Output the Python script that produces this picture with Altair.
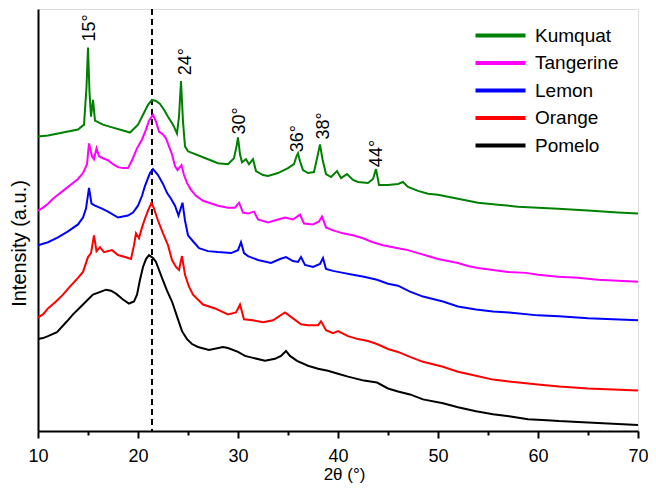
import altair as alt
import pandas as pd

FONT = "Liberation Sans"

series_names = ["Kumquat", "Tangerine", "Lemon", "Orange", "Pomelo"]
series_colors = ["#008000", "#ff00ff", "#0000ff", "#ff0000", "#000000"]

# 2-theta positions (deg) and intensities (a.u.)
kumquat_x = [10.0, 11, 12, 13, 14, 14.6, 14.85, 15.0, 15.15, 15.3, 15.5, 15.7, 16.5, 17.5, 18.5, 19.2, 20, 20.5, 21, 21.4, 21.8, 22.2, 22.6, 23, 23.5, 23.9, 24.1, 24.3, 24.5, 24.7, 25, 26, 27, 28, 29, 29.6, 29.85, 30.0, 30.2, 30.4, 30.8, 31.1, 31.5, 31.8, 32.5, 33, 34, 35, 35.6, 35.85, 36.0, 36.2, 36.5, 37, 37.6, 37.95, 38.2, 38.45, 38.8, 39.3, 39.9, 40.3, 40.9, 41.5, 42, 43, 43.5, 43.8, 44.1, 45, 46, 46.5, 47, 48, 49, 50, 51, 52, 54, 56, 58, 60, 62, 65, 68, 70]
kumquat_y = [298, 299, 301, 303, 305, 310, 348, 388, 343, 318, 335, 314, 310, 307, 304, 302, 310, 320, 330, 335, 334, 331, 325, 318, 310, 301, 318, 354, 313, 288, 283, 279, 275, 271, 270, 276, 288, 297, 280, 272, 275, 270, 275, 263, 259, 258, 261, 266, 270, 278, 281, 273, 264, 261, 262, 278, 290, 275, 260, 257, 263, 256, 260, 254, 252, 251, 255, 265, 249, 249, 250, 252, 247, 243, 240, 239, 237, 235, 231, 229, 227, 226, 225, 223, 221, 220]

tangerine_x = [10, 10.5, 11, 11.5, 12, 12.5, 13, 13.5, 14, 14.5, 14.9, 15.1, 15.4, 15.6, 15.85, 16.1, 16.5, 17, 17.5, 18, 18.5, 19, 19.4, 19.9, 20.4, 20.8, 21.1, 21.5, 21.8, 22.1, 22.5, 22.8, 23.1, 23.4, 23.7, 23.95, 24.35, 24.6, 24.9, 25.3, 25.8, 26.5, 27.4, 28, 29, 29.7, 30.1, 30.5, 31, 31.6, 32, 33, 34, 34.7, 35.5, 36.2, 36.6, 37.5, 38.1, 38.4, 38.8, 39.5, 40.5, 41.5, 42.5, 43.5, 44.5, 46, 47, 48, 49, 50, 51, 52, 53, 54, 55.5, 57, 58.8, 60, 62, 64, 66, 68, 70]
tangerine_y = [223, 226, 230, 235, 239, 243, 247, 251, 255, 261, 270, 291, 278, 275, 286, 278, 276, 274, 270, 267, 266, 266, 274, 286, 295, 305, 314, 320, 313, 303, 300, 296, 288, 280, 268, 264, 269, 259, 251, 244, 238, 233, 230, 228, 226, 226, 231, 221, 220, 222, 214, 211, 214, 216, 214, 219, 210, 209, 212, 217, 206, 203, 200, 198, 195, 191, 188, 185, 183, 180, 177, 174, 172, 170, 167, 165, 163, 161, 160, 158, 156, 155, 153, 152, 151]

lemon_x = [10, 11, 12, 13, 14, 14.5, 14.8, 15.1, 15.35, 15.7, 16.4, 17, 18, 19, 19.5, 20, 20.4, 20.7, 21.2, 21.5, 22, 22.5, 22.9, 23.3, 23.7, 24.05, 24.45, 24.7, 25, 25.5, 26.1, 27, 28, 29.3, 30.0, 30.3, 30.6, 31, 32, 33.3, 34.2, 34.8, 35.5, 36, 36.3, 36.7, 37.5, 38.2, 38.5, 38.8, 39.5, 40.5, 41.5, 42.6, 43.9, 45, 46, 47.2, 48.5, 50.5, 52, 53.8, 55.5, 57.1, 60, 62.1, 65, 67.5, 70]
lemon_y = [188, 191, 196, 202, 209, 216, 225, 246, 230, 228, 225, 222, 216, 218, 221, 228, 238, 248, 261, 265, 259, 250, 241, 235, 228, 218, 231, 213, 198, 192, 185, 182, 181, 180, 183, 191, 180, 177, 173, 170, 174, 176, 172, 171, 176, 168, 166, 169, 175, 164, 162, 160, 158, 156, 153, 149, 147, 141, 136, 131, 126, 123, 121, 120, 117, 116, 114, 113, 112]

orange_x = [10, 10.5, 11, 11.8, 12.5, 13.1, 14, 14.5, 15, 15.3, 15.6, 15.85, 16.2, 16.6, 17.4, 18, 18.7, 19.3, 19.6, 19.8, 20.1, 20.4, 20.7, 21.0, 21.35, 21.6, 22, 22.5, 23, 23.4, 23.8, 24.1, 24.4, 24.7, 25.1, 25.5, 26.5, 27.7, 29, 29.8, 30.2, 30.6, 31.5, 32.5, 33.5, 34.7, 35.5, 36.3, 37, 38.0, 38.3, 38.8, 39.5, 40, 41, 42, 43, 43.9, 45, 46, 47.2, 48.5, 50.5, 52, 53.8, 55.5, 57.1, 60, 62.1, 65, 67.5, 70]
orange_y = [115, 118, 124, 131, 138, 145, 155, 161, 176, 180, 198, 182, 186, 181, 183, 178, 176, 174, 188, 200, 195, 206, 215, 223, 231, 225, 213, 200, 188, 173, 166, 163, 177, 158, 146, 138, 128, 124, 118, 120, 128, 113, 112, 110, 112, 120, 114, 108, 107, 107, 111, 102, 99, 101, 96, 93, 91, 88, 83, 80, 75, 70, 65, 60, 56, 52, 50, 47, 45, 43, 42, 41]

pomelo_x = [10, 10.5, 11, 11.9, 12.9, 13.5, 14.2, 15, 15.5, 16.3, 16.8, 17.3, 17.8, 18.5, 19.1, 19.6, 19.9, 20.2, 20.5, 20.8, 21.1, 21.5, 21.8, 22.4, 22.9, 23.4, 24, 24.4, 24.9, 25.4, 26, 27.1, 28.5, 29, 30, 30.7, 31.5, 32.7, 33.7, 34.3, 34.8, 35.2, 35.9, 37, 38, 39, 40, 41, 42.6, 43.9, 45, 46, 47.2, 48.5, 50.5, 52, 53.8, 55.5, 57.1, 59, 60.9, 62.1, 64, 66, 68, 70]
pomelo_y = [93, 94, 96, 100, 111, 118, 125, 133, 138, 141, 143, 142, 139, 133, 129, 131, 138, 153, 166, 174, 178, 175, 171, 155, 142, 131, 113, 101, 93, 88, 85, 82, 85, 84, 80, 76, 74, 71, 73, 76, 81, 76, 71, 66, 63, 61, 58, 55, 51, 49, 43, 40, 37, 32, 28, 24, 20, 17, 15, 12, 11, 10, 9, 8, 7, 6]

# peak annotations
ann_text = ["15°", "24°", "30°", "36°", "38°", "44°"]
ann_x = [15.2, 24.8, 30.2, 36.0, 38.6, 43.9]
ann_y = [394, 360, 300, 282, 295, 267]

ref_line_x = [21.4]

xs = [kumquat_x, tangerine_x, lemon_x, orange_x, pomelo_x]
ys = [kumquat_y, tangerine_y, lemon_y, orange_y, pomelo_y]
frames = []
for name, x, y in zip(series_names, xs, ys):
    frames.append(pd.DataFrame({"theta": x, "intensity": y, "sample": name}))
df = pd.concat(frames, ignore_index=True)

ann_df = pd.DataFrame({"label": ann_text, "theta": ann_x, "intensity": ann_y})
ref_df = pd.DataFrame({"theta": ref_line_x})

x_scale = alt.Scale(domain=[10, 70], nice=False, zero=False)
y_scale = alt.Scale(domain=[0, 427], nice=False, zero=False)

lines = alt.Chart(df).mark_line(strokeWidth=2).encode(
    x=alt.X("theta:Q", scale=x_scale,
            axis=alt.Axis(
                title="2θ (°)",
                values=[10, 15, 20, 25, 30, 35, 40, 45, 50, 55, 60, 65, 70],
                labelExpr="datum.value % 10 === 0 ? datum.label : ''",
                tickSize={"condition": {"test": "datum.value % 10 === 0", "value": 7}, "value": 4},
                tickWidth=2, tickColor="black",
                domainColor="black", domainWidth=2,
                labelFontSize=18, labelFont=FONT, labelColor="black",
                labelPadding=9, labelBaseline="top", labelFlush=False,
                titleFontSize=17, titleFont=FONT, titleFontWeight="normal", titleColor="black",
                titleX=306, titleY=48, titleBaseline="alphabetic", titleAnchor="start", titleAlign="center",
                grid=False,
            )),
    y=alt.Y("intensity:Q", scale=y_scale,
            axis=alt.Axis(
                title="Intensity (a.u.)", labels=False, ticks=False,
                domainColor="black", domainWidth=2, grid=False,
                titleFontSize=20, titleFont=FONT, titleFontWeight="normal", titleColor="black",
                titleX=-9, titleY=234, titleAngle=270, titleAlign="center", titleBaseline="bottom",
            )),
    color=alt.Color("sample:N",
                    scale=alt.Scale(domain=series_names, range=series_colors),
                    sort=series_names,
                    legend=alt.Legend(
                        title=None, orient="none", legendX=453, legendY=17,
                        symbolType="M-5,0H5", symbolSize=100, symbolStrokeWidth=4,
                        labelFontSize=19, labelFont=FONT, labelColor="black",
                        labelOffset=25, rowPadding=7.5, padding=0,
                    )),
    order=alt.Order("theta:Q"),
    detail="sample:N",
)

ref = alt.Chart(ref_df).mark_rule(color="black", strokeWidth=2, strokeDash=[6, 4]).encode(
    x=alt.X("theta:Q", scale=x_scale)
)

ann = alt.Chart(ann_df).mark_text(
    angle=270, align="left", baseline="middle", fontSize=18, font=FONT, color="black"
).encode(
    x=alt.X("theta:Q", scale=x_scale),
    y=alt.Y("intensity:Q", scale=y_scale),
    text="label:N",
)

chart = alt.layer(ref, lines, ann).properties(
    width=600, height=422,
    autosize=alt.AutoSizeParams(type="none"),
    padding={"left": 30, "top": 1, "right": 10, "bottom": 53},
).configure_view(stroke="black", strokeWidth=2).configure(background="white")

chart.save("out.html", embed_options={"renderer": "svg", "actions": False})
